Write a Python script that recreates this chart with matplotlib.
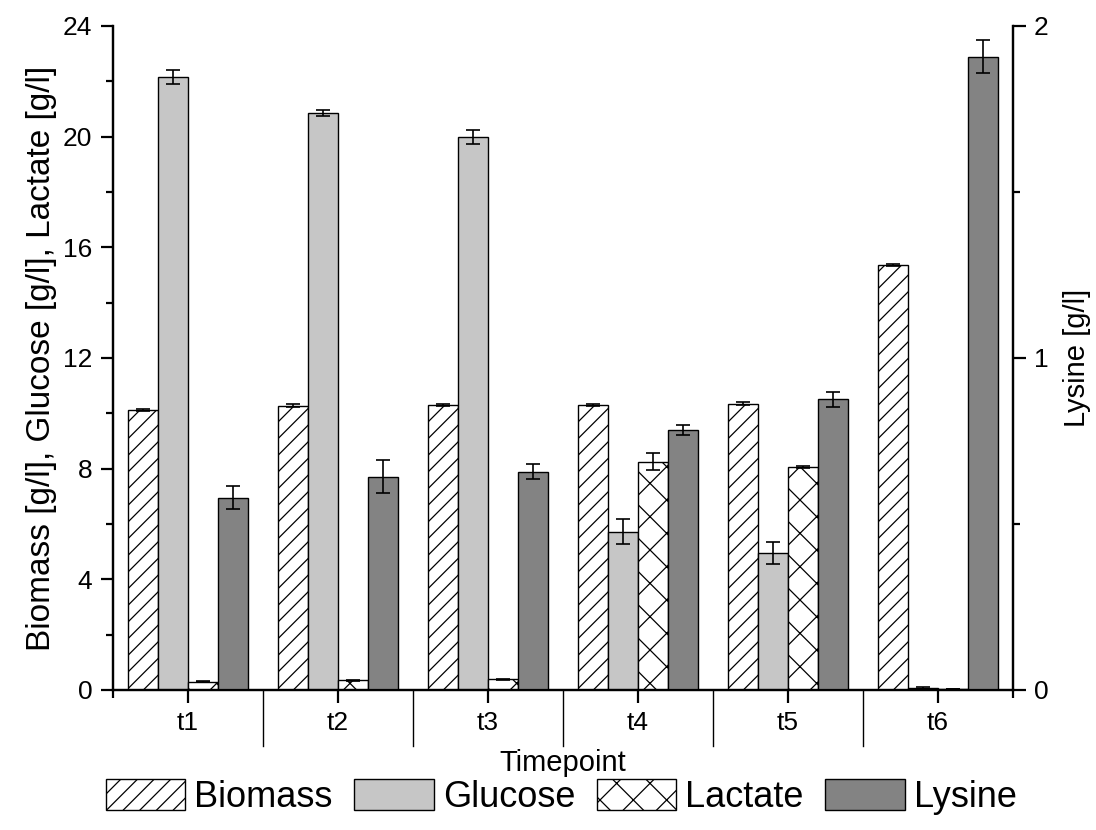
import numpy as np
import matplotlib
matplotlib.use("Agg")
import matplotlib.pyplot as plt
from matplotlib import transforms

plt.rcParams["font.family"] = ["Liberation Sans", "DejaVu Sans"]
plt.rcParams["hatch.linewidth"] = 0.9

timepoints = ["t1", "t2", "t3", "t4", "t5", "t6"]

biomass = [10.12, 10.28, 10.3, 10.3, 10.35, 15.36]
biomass_err = [0.05, 0.05, 0.03, 0.03, 0.05, 0.05]
glucose = [22.15, 20.85, 19.98, 5.72, 4.95, 0.06]
glucose_err = [0.25, 0.12, 0.25, 0.45, 0.4, 0.03]
lactate = [0.3, 0.35, 0.38, 8.25, 8.06, 0.04]
lactate_err = [0.02, 0.02, 0.02, 0.3, 0.04, 0.01]
lysine = [0.579, 0.642, 0.658, 0.783, 0.875, 1.908]
lysine_err = [0.035, 0.05, 0.022, 0.015, 0.022, 0.05]

COLORS = {
    "biomass": "white",
    "glucose": "#c6c6c6",
    "lactate": "white",
    "lysine": "#838383",
}

WIDTH = 0.2
ERR_KW = dict(ecolor="black", elinewidth=1.2, capsize=5, capthick=1.2)

fig = plt.figure(figsize=(10.96, 8.3), dpi=100)
ax = fig.add_axes([0.1031, 0.1687, 0.8212, 0.8])
ax2 = ax.twinx()

x = np.arange(1, len(timepoints) + 1)

b1 = ax.bar(x - 0.3, biomass, WIDTH, yerr=biomass_err, color=COLORS["biomass"],
            edgecolor="black", linewidth=1.0, hatch="//", error_kw=ERR_KW, label="Biomass")
b2 = ax.bar(x - 0.1, glucose, WIDTH, yerr=glucose_err, color=COLORS["glucose"],
            edgecolor="black", linewidth=1.0, error_kw=ERR_KW, label="Glucose")
b3 = ax.bar(x + 0.1, lactate, WIDTH, yerr=lactate_err, color=COLORS["lactate"],
            edgecolor="black", linewidth=1.0, hatch="x", error_kw=ERR_KW, label="Lactate")
b4 = ax2.bar(x + 0.3, lysine, WIDTH, yerr=lysine_err, color=COLORS["lysine"],
             edgecolor="black", linewidth=1.0, error_kw=ERR_KW, label="Lysine")

ax.set_xlim(0.5, 6.5)
ax.set_ylim(0, 24)
ax2.set_ylim(0, 2)

ax.set_yticks(np.arange(0, 25, 4))
ax.set_yticks(np.arange(2, 24, 4), minor=True)
ax2.set_yticks([0, 1, 2])
ax2.set_yticks([0.5, 1.5], minor=True)

ax.set_xticks(x)
ax.set_xticklabels(timepoints)
ax.set_xticks([0.5, 6.5], minor=True)

for a in (ax, ax2):
    a.spines["top"].set_visible(False)
    for s in a.spines.values():
        s.set_linewidth(1.6)
    a.tick_params(which="major", direction="out", length=9, width=1.6,
                  labelsize=19, pad=6)
    a.tick_params(which="minor", direction="out", length=5, width=1.6)
ax.tick_params(axis="x", which="major", length=9, pad=6)
ax.tick_params(axis="x", which="minor", length=6)

# long separator lines between timepoints
trans = transforms.blended_transform_factory(ax.transData, ax.transAxes)
for b in np.arange(1.5, 6.0, 1.0):
    ax.plot([b, b], [0, -0.084], transform=trans, color="black", lw=1.0, clip_on=False)

ax.set_xlabel("Timepoint", fontsize=21, labelpad=10)
ax.set_ylabel("Biomass [g/l], Glucose [g/l], Lactate [g/l]", fontsize=24, labelpad=4)
ax2.set_ylabel("Lysine [g/l]", fontsize=21, labelpad=10)

fig.legend([b1, b2, b3, b4], ["Biomass", "Glucose", "Lactate", "Lysine"],
           loc="center", bbox_to_anchor=(0.512, 0.04), ncol=4, frameon=False,
           fontsize=26, handlelength=2.2, handleheight=0.95, handletextpad=0.25,
           columnspacing=0.6, borderpad=0)

fig.savefig("out.png", dpi=100, facecolor="white")
